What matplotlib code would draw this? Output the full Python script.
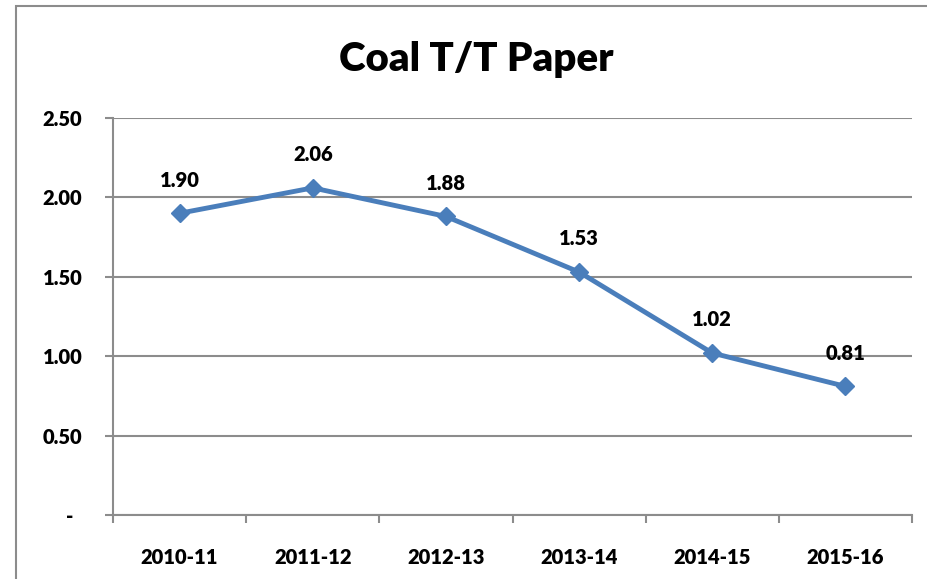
import matplotlib.pyplot as plt
import numpy as np
from matplotlib.patches import Rectangle

years = ["2010-11", "2011-12", "2012-13", "2013-14", "2014-15", "2015-16"]
values = [1.90, 2.06, 1.88, 1.53, 1.02, 0.81]
yticks = [0, 0.5, 1.0, 1.5, 2.0, 2.5]
ytick_labels = ["-  ", "0.50", "1.00", "1.50", "2.00", "2.50"]

plt.rcParams['font.family'] = ['Lato', 'DejaVu Sans']
plt.rcParams['font.weight'] = 'bold'

fig = plt.figure(figsize=(9.27, 5.79), dpi=100)
W, H = 927, 579

# chart frame
fig.patches.append(Rectangle((16 / W, -0.1), 1.2, (579 - 6) / H + 0.1,
                             transform=fig.transFigure, fill=False,
                             edgecolor='#8c8c8c', linewidth=1.5))

ax = fig.add_axes([113 / W, 1 - 515 / H, (912 - 113) / W, (515 - 118) / H])

x = np.arange(len(years))
ax.plot(x, values, color='#4a7ebb', linewidth=3.5, marker='D', markersize=9,
        zorder=3)
for xi, v in zip(x, values):
    ax.annotate(f"{v:.2f}", (xi, v), xytext=(0, 17), textcoords='offset points',
                ha='center', va='bottom', fontsize=14.5, fontweight='heavy')

ax.set_xlim(-0.5, len(years) - 0.5)
ax.set_ylim(0, 2.5)
ax.set_yticks(yticks)
ax.set_yticklabels(ytick_labels, fontweight='heavy', fontsize=14.5)
ax.set_xticks(x)
ax.set_xticklabels(years, fontweight='heavy', fontsize=14.5)
ax.set_xticks(np.arange(-0.5, len(years)), minor=True)
ax.tick_params(axis='x', which='major', length=0, pad=24)
ax.tick_params(axis='x', which='minor', length=6, color='#8c8c8c', width=1.5)
ax.tick_params(axis='y', length=6, color='#8c8c8c', width=1.5, pad=16)

ax.grid(axis='y', color='#8c8c8c', linewidth=1.5)
ax.set_axisbelow(True)
for s in ['top', 'right']:
    ax.spines[s].set_visible(False)
for s in ['left', 'bottom']:
    ax.spines[s].set_color('#8c8c8c')
    ax.spines[s].set_linewidth(1.5)

fig.text(476 / W, 1 - 60 / H, "Coal T/T Paper", ha='center', va='center',
         fontsize=29, fontweight='heavy')

fig.savefig('out.png', dpi=100)
